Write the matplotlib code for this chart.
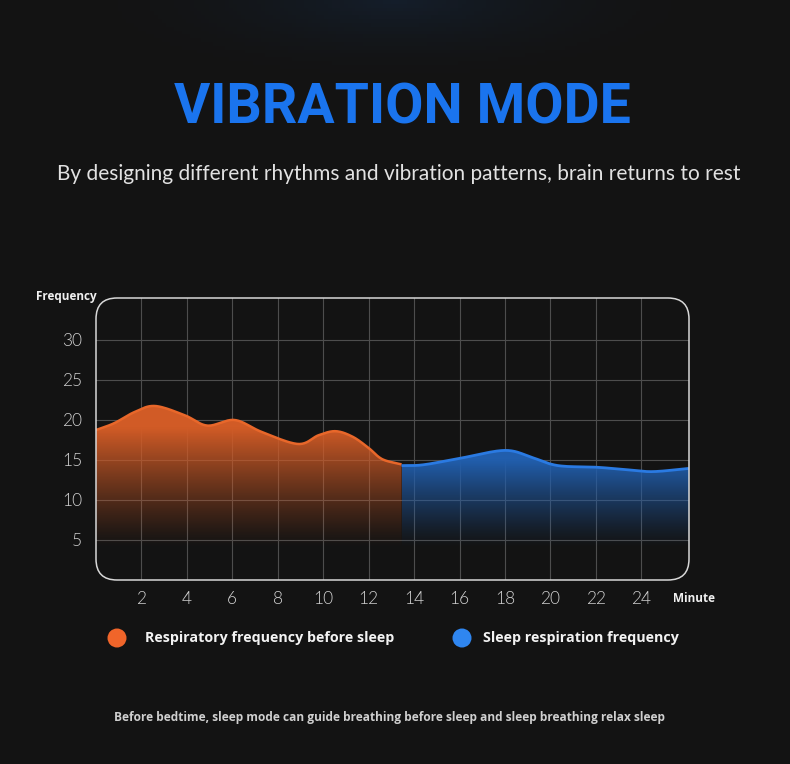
import numpy as np
import matplotlib
matplotlib.use("Agg")
import matplotlib.pyplot as plt
from matplotlib.patches import FancyBboxPatch, Polygon, Circle

# ---- data ----
before_x = [0, 0.8, 1.7, 2.6, 3.9, 4.9, 6.1, 7.3, 8.9, 9.8, 10.55, 11.3, 12.0, 12.6, 13.45]
before_y = [18.75, 19.6, 21.0, 21.75, 20.6, 19.3, 20.0, 18.5, 17.0, 18.1, 18.6, 17.9, 16.5, 15.1, 14.45]
sleep_x = [13.45, 14.4, 16.0, 18.0, 19.2, 20.0, 20.7, 22.0, 23.3, 24.5, 26.1]
sleep_y = [14.3, 14.4, 15.2, 16.2, 15.3, 14.5, 14.2, 14.1, 13.8, 13.55, 13.95]
x_ticks = [2, 4, 6, 8, 10, 12, 14, 16, 18, 20, 22, 24]
y_ticks = [5, 10, 15, 20, 25, 30]
legend_labels = ["Respiratory frequency before sleep", "Sleep respiration frequency"]

BG = "#131313"
ORANGE = "#e8672a"
BLUE = "#2a7ae2"


def smooth(xs, ys, n=20):
    xs = np.asarray(xs, float)
    ys = np.asarray(ys, float)
    px = np.concatenate([[2 * xs[0] - xs[1]], xs, [2 * xs[-1] - xs[-2]]])
    py = np.concatenate([[2 * ys[0] - ys[1]], ys, [2 * ys[-1] - ys[-2]]])
    ox, oy = [], []
    t = np.linspace(0, 1, n, endpoint=False)
    for i in range(1, len(px) - 2):
        for P, out in ((px, ox), (py, oy)):
            p0, p1, p2, p3 = P[i - 1], P[i], P[i + 1], P[i + 2]
            v = 0.5 * ((2 * p1) + (-p0 + p2) * t + (2 * p0 - 5 * p1 + 4 * p2 - p3) * t ** 2
                       + (-p0 + 3 * p1 - 3 * p2 + p3) * t ** 3)
            out.extend(v)
    ox.append(xs[-1])
    oy.append(ys[-1])
    return np.array(ox), np.array(oy)


W, H = 790, 764
fig = plt.figure(figsize=(W / 100, H / 100), dpi=100, facecolor=BG)

# faint top glow
glow_ax = fig.add_axes([0, 0, 1, 1], zorder=-10)
glow_ax.set_axis_off()
gx, gy = np.meshgrid(np.linspace(0, 1, 200), np.linspace(0, 1, 200))
d = np.sqrt(((gx - 0.5) / 0.45) ** 2 + ((gy - 1.0) / 0.12) ** 2)
a = np.clip(1 - d, 0, 1) ** 2 * 0.25
img = np.zeros((200, 200, 4))
img[..., 0] = 0.1
img[..., 1] = 0.25
img[..., 2] = 0.45
img[..., 3] = a
glow_ax.imshow(img, extent=[0, 1, 0, 1], origin="lower", aspect="auto")
glow_ax.set_xlim(0, 1)
glow_ax.set_ylim(0, 1)

# chart axes
L, R, T, B = 96, 689, 298, 580
ax = fig.add_axes([L / W, 1 - B / H, (R - L) / W, (B - T) / H])
ax.set_facecolor("none")
ax.set_xlim(0, 26.1)
ax.set_ylim(0, 35.25)
for s in ax.spines.values():
    s.set_visible(False)

for xv in x_ticks:
    ax.axvline(xv, color="#4d4d4d", lw=0.8, zorder=1)
for yv in y_ticks:
    ax.axhline(yv, color="#4d4d4d", lw=0.8, zorder=1)

ax.set_xticks(x_ticks)
ax.set_yticks(y_ticks)
ax.tick_params(length=0, colors="#d0d0d0", labelsize=12.5, pad=10)
for lab in ax.get_xticklabels() + ax.get_yticklabels():
    lab.set_fontfamily("Lato")
    lab.set_fontweight(300)
ax.tick_params(axis="x", pad=8)


def gradient_fill(xs, ys, rgb, y_lo, y_hi, zorder):
    sx, sy = smooth(xs, ys)
    verts = np.vstack([np.column_stack([sx, sy]), [[sx[-1], 0], [sx[0], 0]]])
    poly = Polygon(verts, closed=True, facecolor="none", edgecolor="none")
    ax.add_patch(poly)
    yy = np.linspace(0, 25, 300)
    alpha = np.clip((yy - y_lo) / (y_hi - y_lo), 0, 1) ** 1.2
    g = np.zeros((300, 2, 4))
    g[..., :3] = rgb
    g[..., 3] = alpha[:, None]
    im = ax.imshow(g, extent=[sx[0], sx[-1], 0, 25], origin="lower", aspect="auto",
                   zorder=zorder, interpolation="bilinear")
    im.set_clip_path(poly)
    return sx, sy


ox, oy = gradient_fill(before_x, before_y, (0.82, 0.36, 0.15), 4.0, 19.0, 2)
bx, by = gradient_fill(sleep_x, sleep_y, (0.13, 0.37, 0.68), 4.0, 15.0, 2)
ax.plot(ox, oy, color=ORANGE, lw=1.8, zorder=3, solid_capstyle="butt")
ax.plot(bx, by, color=BLUE, lw=2.0, zorder=3, solid_capstyle="butt")
ax.set_xlim(0, 26.1)
ax.set_ylim(0, 35.25)

# rounded frame
frame = FancyBboxPatch((L / 100, (H - B) / 100), (R - L) / 100, (B - T) / 100,
                       boxstyle="round,pad=0,rounding_size=0.21",
                       transform=fig.dpi_scale_trans, facecolor="none",
                       edgecolor="#d8d8d8", lw=1.1, zorder=5)
fig.patches.append(frame)

# texts
fig.text(402 / W, 1 - 108 / H, "VIBRATION MODE", ha="center", va="center",
         color="#1a74ee", fontsize=40, fontweight="bold", family="Roboto")
fig.text(399 / W, 1 - 174 / H,
         "By designing different rhythms and vibration patterns, brain returns to rest",
         ha="center", va="center", color="#e2e2e2", fontsize=15, family="Lato")
fig.text(36 / W, 1 - 296 / H, "Frequency", ha="left", va="center", color="#f0f0f0",
         fontsize=8.5, fontweight="bold", family="Open Sans")
fig.text(673 / W, 1 - 599 / H, "Minute", ha="left", va="center", color="#f0f0f0",
         fontsize=8.5, fontweight="bold", family="Open Sans")

# legend
for cx, col, tx, lab in ((117, "#f0652a", 145, legend_labels[0]),
                         (462, "#2f86f0", 483, legend_labels[1])):
    fig.patches.append(Circle((cx / 100, (H - 638) / 100), 0.095, transform=fig.dpi_scale_trans,
                              facecolor=col, edgecolor="none"))
    fig.text(tx / W, 1 - 638 / H, lab, ha="left", va="center", color="#f2f2f2",
             fontsize=10.3, fontweight="bold", family="Open Sans")

fig.text(389 / W, 1 - 717 / H,
         "Before bedtime, sleep mode can guide breathing before sleep and sleep breathing relax sleep",
         ha="center", va="center", color="#cfcfcf", fontsize=8.6, fontweight="bold", family="Open Sans")

fig.savefig("out.png", dpi=100, facecolor=BG)
